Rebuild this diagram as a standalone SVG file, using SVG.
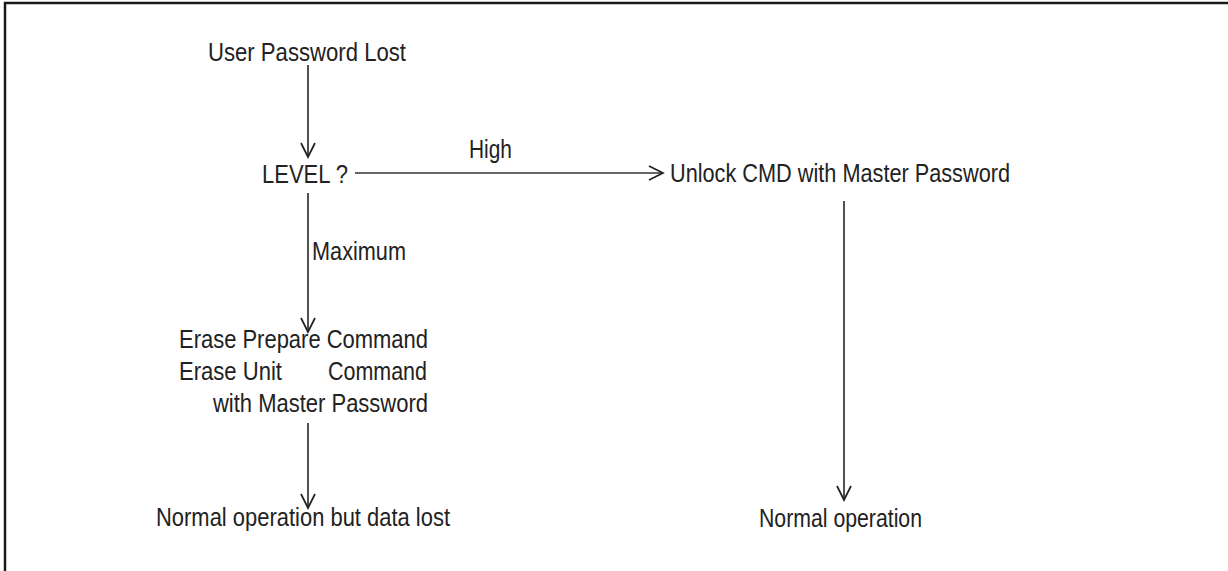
<svg xmlns="http://www.w3.org/2000/svg" width="1228" height="571" viewBox="0 0 1228 571">
<style>
.t{font-family:"Liberation Sans",Arial,sans-serif;font-size:26px;fill:#222}
.c{stroke:#333;stroke-width:1.7;fill:none}
</style>
<defs>
<marker id="ah" markerUnits="userSpaceOnUse" markerWidth="20" markerHeight="20" viewBox="-16 -10 20 20" refX="0" refY="0" orient="auto">
<path d="M-14,-7 L0,0 L-14,7" fill="none" stroke="#222" stroke-width="1.7"/>
</marker>
</defs>
<rect width="1228" height="571" fill="#fff"/>
<path d="M5,571 V3 H1228" fill="none" stroke="#1a1a1a" stroke-width="2.5"/>
<g id="connectors">
<line class="c" x1="308" y1="65" x2="308" y2="157" marker-end="url(#ah)"/>
<line class="c" x1="355" y1="173" x2="663" y2="173" marker-end="url(#ah)"/>
<line class="c" x1="308" y1="193" x2="308" y2="332" marker-end="url(#ah)"/>
<line class="c" x1="308" y1="423" x2="308" y2="508" marker-end="url(#ah)"/>
<line class="c" x1="844" y1="201" x2="844" y2="500" marker-end="url(#ah)"/>
<text class="t" x="469" y="158" textLength="43" lengthAdjust="spacingAndGlyphs">High</text>
<text class="t" x="312" y="260" textLength="94" lengthAdjust="spacingAndGlyphs">Maximum</text>
</g>
<g id="start"><text class="t" x="208" y="61" textLength="198" lengthAdjust="spacingAndGlyphs">User Password Lost</text></g>
<g id="level"><text class="t" x="262" y="183" textLength="86" lengthAdjust="spacingAndGlyphs">LEVEL ?</text></g>
<g id="unlock"><text class="t" x="670" y="182" textLength="340" lengthAdjust="spacingAndGlyphs">Unlock CMD with Master Password</text></g>
<g id="erase">
<text class="t" x="179" y="348" textLength="249" lengthAdjust="spacingAndGlyphs">Erase Prepare Command</text>
<text class="t" y="380"><tspan x="179" textLength="103" lengthAdjust="spacingAndGlyphs">Erase Unit</tspan><tspan x="328" textLength="99" lengthAdjust="spacingAndGlyphs">Command</tspan></text>
<text class="t" x="213" y="412" textLength="215" lengthAdjust="spacingAndGlyphs">with Master Password</text>
</g>
<g id="end-data-lost"><text class="t" x="156" y="526" textLength="294" lengthAdjust="spacingAndGlyphs">Normal operation but data lost</text></g>
<g id="end-normal"><text class="t" x="759" y="527" textLength="163" lengthAdjust="spacingAndGlyphs">Normal operation</text></g>
</svg>
